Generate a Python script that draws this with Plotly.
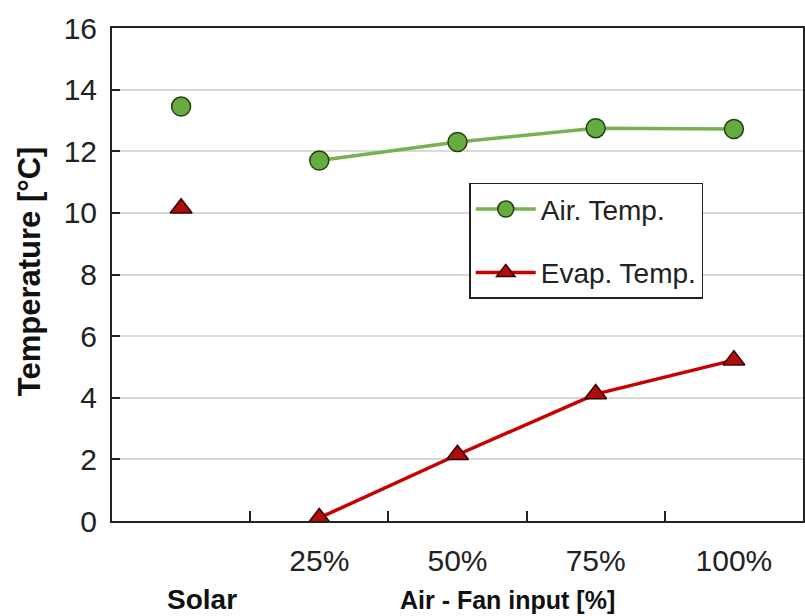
import plotly.graph_objects as go

categories = ["Solar", "25%", "50%", "75%", "100%"]
air_temp = [13.45, 11.7, 12.3, 12.75, 12.72]
evap_temp = [10.15, 0.1, 2.15, 4.12, 5.22]
y_ticks = [0, 2, 4, 6, 8, 10, 12, 14, 16]

GREEN_LINE = "#77b150"
GREEN_FILL = "#66ab40"
GREEN_EDGE = "#24400f"
RED_LINE = "#c80000"
RED_FILL = "#b00c0c"
RED_EDGE = "#3a0000"
FONT = "Liberation Sans, Arial, sans-serif"

fig = go.Figure()

# Solar points (not connected)
fig.add_trace(go.Scatter(
    x=categories[:1], y=air_temp[:1], mode="markers", showlegend=False,
    marker=dict(symbol="circle", size=19, color=GREEN_FILL, line=dict(color=GREEN_EDGE, width=1.5)),
))
fig.add_trace(go.Scatter(
    x=categories[:1], y=evap_temp[:1], mode="markers", showlegend=False,
    marker=dict(symbol="triangle-up", size=19, color=RED_FILL, line=dict(color=RED_EDGE, width=1.5)),
))
# Fan input series
fig.add_trace(go.Scatter(
    x=categories[1:], y=air_temp[1:], mode="lines+markers", name="Air. Temp.",
    legendgroup="a",
    line=dict(color=GREEN_LINE, width=3.5),
    marker=dict(symbol="circle", size=19, color=GREEN_FILL, line=dict(color=GREEN_EDGE, width=1.5)),
))
fig.add_trace(go.Scatter(
    x=categories[1:], y=evap_temp[1:], mode="lines+markers", name="Evap. Temp.",
    legendgroup="b",
    line=dict(color=RED_LINE, width=3.5),
    marker=dict(symbol="triangle-up", size=19, color=RED_FILL, line=dict(color=RED_EDGE, width=1.5)),
))

fig.update_layout(
    width=805, height=616,
    margin=dict(l=112, r=0, t=28, b=95),
    paper_bgcolor="white", plot_bgcolor="white",
    font=dict(family=FONT, size=30, color="#222222"),
    showlegend=True,
    legend=dict(
        x=0.517, y=0.686, xanchor="left", yanchor="top",
        bordercolor="#222222", borderwidth=1.5, bgcolor="white",
        font=dict(size=28, color="#222222"),
        traceorder="grouped", tracegroupgap=24,
        itemwidth=60,
    ),
    xaxis=dict(
        type="category", categoryorder="array", categoryarray=categories,
        range=[-0.5, 4.5],
        tickmode="array", tickvals=categories[1:], ticktext=categories[1:],
        tickson="boundaries", ticks="inside", ticklen=10, tickwidth=1.5, tickcolor="#222222",
        showline=True, linecolor="#222222", linewidth=2, mirror=True,
        showgrid=False, ticklabelstandoff=12,
        tickfont=dict(size=30),
    ),
    yaxis=dict(
        range=[0, 16], tickmode="array", tickvals=y_ticks,
        ticks="inside", ticklen=8, tickwidth=1.5, tickcolor="#222222",
        showline=True, linecolor="#222222", linewidth=2, mirror=True,
        showgrid=True, gridcolor="#d9d9d9", gridwidth=1.5,
        zeroline=False, ticklabelstandoff=7,
        tickfont=dict(size=30),
    ),
    annotations=[
        dict(text="<b>Temperature [°C]</b>", textangle=-90, xref="paper", yref="paper",
             x=-0.12, y=0.507, xanchor="center", yanchor="middle", showarrow=False,
             font=dict(size=31, color="#111111")),
        dict(text="<b>Solar</b>", xref="paper", yref="paper", x=(202 - 112) / 693, y=-0.16,
             xanchor="center", yanchor="middle", showarrow=False,
             font=dict(size=28, color="#111111")),
        dict(text="<b>Air - Fan input [%]</b>", xref="paper", yref="paper", x=0.573, y=-0.16,
             xanchor="center", yanchor="middle", showarrow=False,
             font=dict(size=25, color="#111111")),
    ],
)

fig.write_html("out.html")
